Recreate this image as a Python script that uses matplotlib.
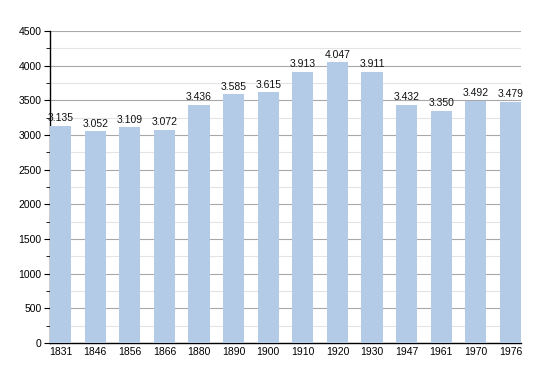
import matplotlib
matplotlib.use("Agg")
import matplotlib.pyplot as plt
from matplotlib.ticker import MultipleLocator

plt.rcParams['font.family'] = ['Liberation Sans', 'DejaVu Sans']

# Population by census year
years = ["1831", "1846", "1856", "1866", "1880", "1890", "1900",
         "1910", "1920", "1930", "1947", "1961", "1970", "1976"]
population = [3135, 3052, 3109, 3072, 3436, 3585, 3615,
              3913, 4047, 3911, 3432, 3350, 3492, 3479]
labels = ["3.135", "3.052", "3.109", "3.072", "3.436", "3.585", "3.615",
          "3.913", "4.047", "3.911", "3.432", "3.350", "3.492", "3.479"]

fig = plt.figure(figsize=(5.5, 3.73), dpi=100)
ax = fig.add_axes([50/550, 30/373, 471/550, 312/373])

bw = 0.61
x = range(len(years))
ax.bar(x, population, width=bw, color='#b3cbe6', zorder=3)

for i, (v, t) in enumerate(zip(population, labels)):
    ax.text(i, v + 40, t, ha='center', va='bottom', fontsize=7.5, color='#111111', zorder=4)

ax.set_xlim(-bw / 2, len(years) - 1 + bw / 2)
ax.set_ylim(0, 4500)
ax.set_xticks(list(x))
ax.set_xticklabels(years)
ax.yaxis.set_major_locator(MultipleLocator(500))
ax.yaxis.set_minor_locator(MultipleLocator(250))

ax.grid(axis='y', which='major', color='#a8a8a8', linewidth=0.8, zorder=0)
ax.grid(axis='y', which='minor', color='#e4e4e4', linewidth=0.8, zorder=0)

for s in ['top', 'right']:
    ax.spines[s].set_visible(False)
ax.spines['left'].set_linewidth(1.0)
ax.spines['bottom'].set_linewidth(1.0)

ax.tick_params(axis='y', which='major', length=4, labelsize=7.5, pad=2)
ax.tick_params(axis='y', which='minor', length=3)
ax.tick_params(axis='x', length=0, labelsize=7.5, pad=3)

fig.savefig("out.png", dpi=100)
